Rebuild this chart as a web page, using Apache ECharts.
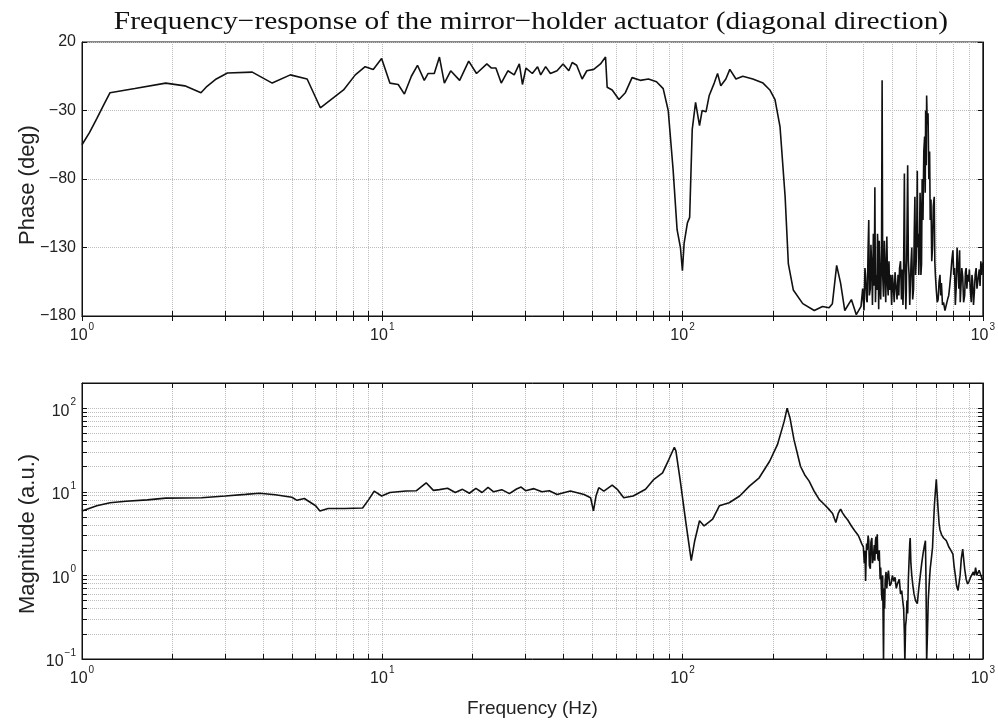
<!DOCTYPE html>
<html>
<head>
<meta charset="utf-8">
<script src="https://cdn.jsdelivr.net/npm/echarts@6/dist/echarts.min.js"></script>
<style>html,body{margin:0;padding:0;background:#fff}#c{width:998px;height:724px}</style>
</head>
<body>
<div id="c"></div>
<script>
// ---- Data ----
const phaseFreq = [1.00,1.06,1.12,1.18,1.24,1.50,1.90,2.20,2.49,2.59,2.80,3.05,3.69,4.30,4.94,5.62,6.22,7.43,8.13,8.77,9.33,9.95,10.6,11.3,11.85,12.5,13.1,13.8,14.2,14.9,15.5,16.1,16.9,18.1,19.4,20.6,22.3,23.1,23.9,24.9,26.2,27.5,28.6,29.3,30.1,31.6,32.9,33.7,35.0,36.3,38.2,40.0,41.8,42.9,44.4,46.3,48.0,50.6,53.3,55.4,56.1,58.3,61.4,64.5,67.9,72.3,77.0,81.9,86.2,89.6,93.0,95.9,98.4,99.9,101.2,103.8,105.6,107.7,110.5,113.9,116.2,119.7,122.7,127.5,130.8,134.1,139.4,143.7,150.6,158.7,171.4,185.4,195.3,203.2,211.2,219.6,225.1,233.8,251.4,274.6,292.5,307.6,315.5,326,336,347,365,379,
  393,398,402,405,407,410,412,415,417,419,422,424,427,429,432,435,437,439,441,444,446,448,450,452,455,457,460,462,464,467,470,472,475,479,482,484,487,489,493,497,500,504,507,510,513,518,522,525,528,532,536,539,542,544,546,548,550,552,554,556,559,562,565,568,571,574,577,580,584,588,591,594,597,600,603,605,607,610,612,615,618,620,622,625,628,632,636,640,643,645,648,650,653,657,661,665,668,672,676,680,684,689,692,695,700,705,710,715,720,724,728,734,740,748,756,763,770,776,782,788,795,800,805,810,815,821,827,832,837,841,845,851,857,863,870,875,880,885,890,896,902,908,915,920,925,931,937,943,950,956,962,968,973,979,985,992,1000];
const phaseDeg = [-55,-46,-36,-26,-17,-14,-10,-12,-17,-13,-7,-2.6,-2,-10,-4,-7,-28,-15,-4,2,0,8,-10,-11,-18,-5,3,-8,-3,-3,9,-10,-1,-8,6,-3,4,1,1,-10,-1,-4,4,-11,1,-3,2,-4,2,-3,-1,4,-1,5,3,-7,-1,0,4,9,-13,-15,-22,-17,-6,-8,-7,-9,-14,-30,-73,-117,-130,-147,-127,-112,-108,-44,-24,-41,-30,-31,-19,-10,-3,-12,-7,0,-7,-5,-7,-10,-15,-22,-42,-93,-142,-161,-171,-176,-173,-174,-171,-143,-156,-176,-168,-179,
  -173,-160,-176,-145,-151,-168,-170,-130,-110,-165,-160,-128,-146,-172,-120,-158,-86,-170,-150,-161,-120,-135,-175,-125,-160,-168,-130,-8,-150,-166,-125,-140,-170,-122,-158,-165,-140,-161,-150,-172,-150,-160,-170,-148,-156,-168,-150,-165,-145,-140,-168,-146,-172,-160,-120,-76,-140,-150,-175,-163,-120,-70,-140,-150,-172,-156,-140,-130,-168,-160,-120,-93,-150,-140,-110,-74,-130,-120,-150,-130,-90,-100,-150,-142,-80,-110,-60,-49,-90,-30,-70,-19,-40,-32,-80,-60,-110,-95,-140,-130,-100,-93,-140,-150,-161,-170,-168,-155,-150,-165,-156,-172,-170,-176,-176,-168,-165,-158,-150,-140,-132,-150,-145,-172,-160,-130,-146,-160,-132,-170,-160,-145,-151,-170,-165,-148,-145,-160,-150,-155,-146,-160,-170,-150,-155,-172,-163,-150,-145,-160,-155,-150,-146,-158,-140,-150,-141];

const magFreq = [1.00,1.12,1.24,1.40,1.65,1.90,2.50,3.00,3.50,3.90,4.40,5.00,5.20,5.50,6.00,6.20,6.60,7.50,8.60,9.00,9.40,9.95,10.6,12.0,13.0,14.0,14.8,15.5,16.5,17.5,18.5,19.5,20.5,21.5,22.5,23.5,25.0,26.5,28.0,29.0,30.0,32.0,34.0,36.0,38.2,42.3,47.0,49.4,50.5,51.5,52.6,54.7,58.3,60.6,63.7,68.5,75.3,80.3,85.8,90.0,93.9,95.0,98.3,102.4,106.9,109.8,113.9,118,126,132.6,143,155,167,180,195,207,218,223,228,235,247,255,264,275,285,295,307,316,324,330,336,341,347,355,365,375,
  385,395,400,403,405,407,410,412,415,417,419,422,424,427,429,432,435,437,439,441,443,445,447,450,452,455,457,460,462,464,467,469,471,473,476,479,482,485,490,495,500,505,510,515,520,527,532,537,541,545,548,550,553,556,559,562,565,568,571,573,576,580,585,590,597,605,612,620,626,632,638,644,647,650,654,658,663,668,674,680,685,690,695,700,705,710,715,720,724,728,734,740,748,756,763,770,782,795,802,810,818,827,833,840,848,857,863,870,880,890,900,910,920,930,938,946,955,965,972,980,990,1000];
const magVal = [5.9,6.8,7.4,7.7,8.0,8.4,8.5,8.9,9.3,9.6,9.2,8.6,7.9,8.3,6.8,5.9,6.3,6.3,6.4,8.0,10.2,8.9,9.8,10.2,10.3,12.8,10.4,10.6,11.0,9.8,10.7,9.6,11.0,9.8,11.3,10.0,10.6,9.5,10.8,11.4,10.3,10.9,10.0,10.3,9.3,10.2,9.3,8.5,5.9,8.9,11.2,10.2,12.0,10.7,8.5,8.9,10.7,14.1,16.8,24.3,34.1,31,13.4,4.5,1.5,2.6,4.5,3.9,4.7,6.8,7.4,8.9,11.7,14.7,23.2,36.6,69.5,100,76,42,20.2,16,13.4,10,8.1,7.2,6.2,5.5,4.3,5.5,6.2,5.6,5.1,4.6,3.9,3.4,
  3.0,2.4,2.2,1.4,1.97,0.86,2.4,2.0,3.0,2.6,1.3,1.2,2.5,2.8,1.4,1.6,2.3,1.5,2.6,2.9,1.8,3.1,1.6,1.5,2.0,0.9,1.24,0.6,0.5,1.0,0.09,0.7,0.4,0.86,1.1,0.7,1.0,1.14,0.75,0.8,1.0,0.85,0.95,0.7,0.8,0.9,0.6,0.66,0.5,0.4,0.2,0.09,0.25,0.3,0.5,0.35,0.9,1.5,2.4,2.8,1.4,1.0,0.75,0.60,0.5,0.46,0.7,1.04,1.4,1.8,2.2,2.6,0.8,0.09,0.2,0.5,0.8,1.2,1.6,2.15,4,7,10,14.1,9,6,4.2,3.5,3.3,3.1,3.0,2.8,2.7,2.6,2.4,2.2,2.0,1.8,1.3,1.0,0.75,0.66,0.8,1.0,1.6,2.06,1.6,1.2,0.9,0.79,0.85,0.95,1.0,1.1,1.0,1.24,1.0,0.95,1.15,1.1,0.95,0.86];

const phaseTickLabels = ['−180','−130','−80','−30','20'];
const freqMajor = [1,10,100,1000];
const magMajor = [0.1,1,10,100];

// ---- build ----
const minorOf = (lo, hi) => { const out=[]; for(let d=lo; d<hi; d*=10){ for(let k=1;k<10;k++) out.push(+(k*d).toPrecision(6)); } out.push(hi); return out; };
const freqMinor = minorOf(1,1000);
const magMinor = minorOf(0.1,100).concat([200]);

const supLabel = v => { const e = Math.round(Math.log10(v)); return '{b|10}{s|' + String(e).replace('-', '−') + '}'; };
const richSup = {
  b: {fontFamily: 'Liberation Sans', fontSize: 16, color: '#222', lineHeight: 22, verticalAlign: 'bottom'},
  s: {fontFamily: 'Liberation Sans', fontSize: 10, color: '#222', lineHeight: 22, verticalAlign: 'top', padding: [0,0,0,1]}
};
const grid = {type: 'dotted', color: '#bdbdbd', width: 1};
const axLine = {show: true, lineStyle: {color: '#111', width: 1}};
const nameFont = '22px "Liberation Sans"';

function xAxisDef(gi, pos, labels, name) {
  return {
    type: 'log', logBase: 10, gridIndex: gi, position: pos, min: 1, max: 1000,
    axisLine: axLine,
    axisTick: {show: true, inside: true, length: 5, customValues: freqMinor, lineStyle: {color: '#111'}},
    axisLabel: labels ? {show: true, customValues: freqMajor, formatter: supLabel, rich: richSup, margin: 6} : {show: false},
    splitLine: {show: pos === 'bottom', lineStyle: grid},
    name: name || '', nameLocation: 'middle', nameGap: 40,
    nameTextStyle: {fontFamily: 'Liberation Sans', fontSize: 19, color: '#222'}
  };
}

const option = {
  animation: false,
  backgroundColor: '#fff',
  graphic: [
    {type: 'text', x: 531, y: 22, scaleX: 1.13, silent: true,
     style: {text: 'Frequency−response of the mirror−holder actuator (diagonal direction)',
       font: '26px "Liberation Serif"', fill: '#111', textAlign: 'center', textVerticalAlign: 'middle'}},
    {type: 'text', x: 28, y: 185, rotation: Math.PI / 2, silent: true,
     style: {text: 'Phase (deg)', font: nameFont, fill: '#222', textAlign: 'center', textVerticalAlign: 'middle'}},
    {type: 'text', x: 28, y: 534, rotation: Math.PI / 2, silent: true,
     style: {text: 'Magnitude (a.u.)', font: nameFont, fill: '#222', textAlign: 'center', textVerticalAlign: 'middle'}}
  ],
  grid: [
    {left: 82, right: 10, top: 42, height: 274, show: true, borderColor: '#111', borderWidth: 1, backgroundColor: '#fff'},
    {left: 82, right: 10, top: 383, height: 276, show: true, borderColor: '#111', borderWidth: 1, backgroundColor: '#fff'}
  ],
  xAxis: [
    xAxisDef(0, 'bottom', true),
    xAxisDef(0, 'top', false),
    xAxisDef(1, 'bottom', true, 'Frequency (Hz)'),
    xAxisDef(1, 'top', false)
  ],
  yAxis: [
    {type: 'value', gridIndex: 0, position: 'left', min: 0, max: 200, interval: 50,
     axisLine: axLine, axisTick: {inside: true, length: 5, lineStyle: {color: '#111'}},
     axisLabel: {formatter: (v) => phaseTickLabels[Math.round(v/50)], fontFamily: 'Liberation Sans', fontSize: 16, color: '#222', margin: 6},
     splitLine: {show: true, lineStyle: grid}},
    {type: 'value', gridIndex: 0, position: 'right', min: 0, max: 200, interval: 50,
     axisLine: axLine, axisTick: {inside: true, length: 5, lineStyle: {color: '#111'}},
     axisLabel: {show: false}, splitLine: {show: false}},
    {type: 'log', logBase: 10, gridIndex: 1, position: 'left', min: 0.1, max: 200,
     axisLine: axLine, axisTick: {inside: true, length: 5, customValues: magMinor, lineStyle: {color: '#111'}},
     axisLabel: {customValues: magMajor, formatter: supLabel, rich: richSup, margin: 6},
     splitLine: {show: true, lineStyle: grid}},
    {type: 'log', logBase: 10, gridIndex: 1, position: 'right', min: 0.1, max: 200,
     axisLine: axLine, axisTick: {inside: true, length: 5, customValues: magMinor, lineStyle: {color: '#111'}},
     axisLabel: {show: false}, splitLine: {show: false}}
  ],
  series: [
    {type: 'line', xAxisIndex: 0, yAxisIndex: 0, showSymbol: false, clip: true,
     lineStyle: {color: '#111', width: 1.6},
     data: phaseFreq.map((f, i) => [f, phaseDeg[i] + 180])},
    {type: 'line', xAxisIndex: 2, yAxisIndex: 2, showSymbol: false, clip: true,
     lineStyle: {color: '#111', width: 1.6},
     data: magFreq.map((f, i) => [f, magVal[i]])}
  ]
};
const chart = echarts.init(document.getElementById('c'));
chart.setOption(option);
</script>
</body>
</html>
